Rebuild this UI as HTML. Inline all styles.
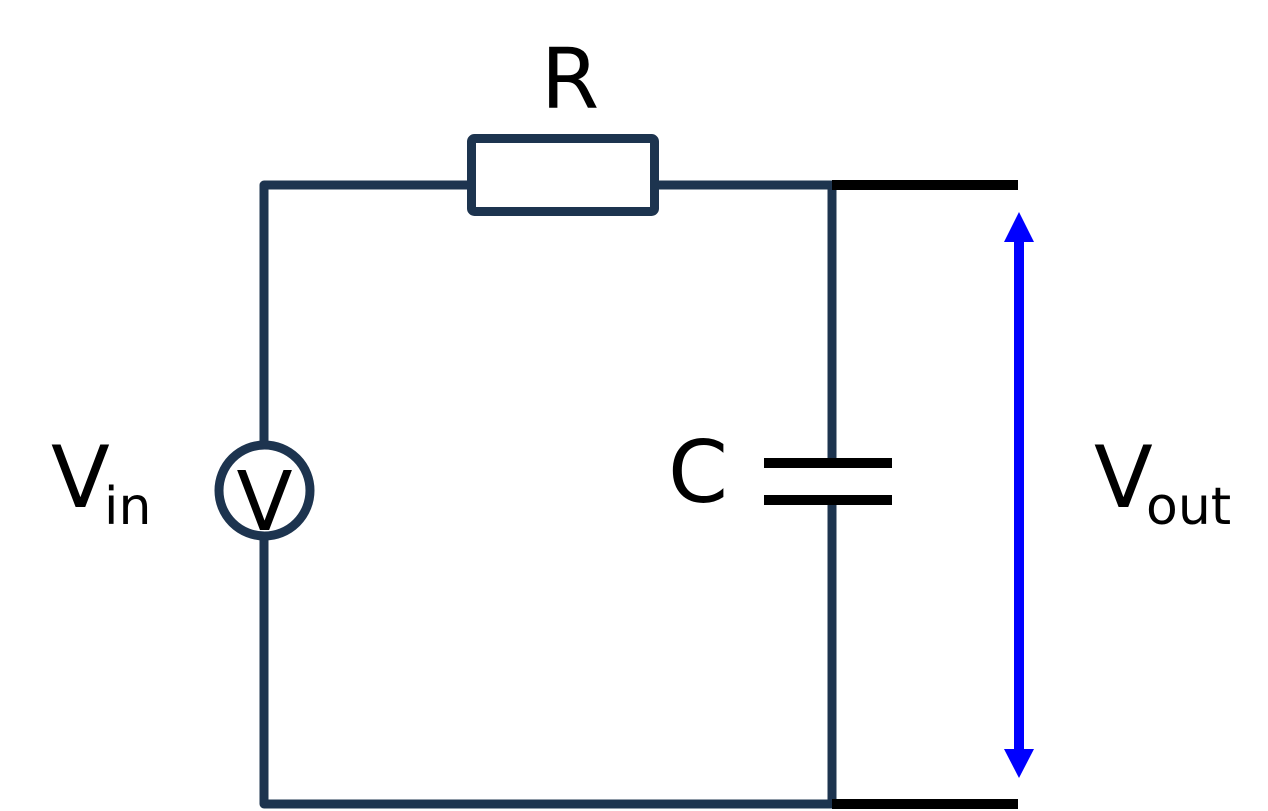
<!DOCTYPE html>
<html><head><meta charset="utf-8"><style>
html,body{margin:0;padding:0;background:#fff;}
svg{display:block;}
text{font-family:"DejaVu Sans","Liberation Sans",sans-serif;fill:#000;}
</style></head><body>
<svg width="1268" height="811" viewBox="0 0 1268 811" xmlns="http://www.w3.org/2000/svg">
<g stroke="#1d344f" stroke-width="9" fill="none" stroke-linejoin="round">
<polyline points="264,445 264,185 471,185"/>
<polyline points="655,185 832,185 832,460"/>
<polyline points="832,503 832,804 264,804 264,536"/>
<rect x="471.5" y="138.5" width="183" height="73" rx="3"/>
<circle cx="264.5" cy="490.5" r="45.5" fill="#fff"/>
</g>
<g stroke="#000" stroke-width="10">
<line x1="832" y1="185" x2="1018" y2="185"/>
<line x1="832" y1="804" x2="1018" y2="804"/>
</g>
<g stroke="#000" stroke-width="10">
<line x1="764" y1="463" x2="892" y2="463"/>
<line x1="764" y1="500" x2="892" y2="500"/>
</g>
<line x1="1019" y1="240" x2="1019" y2="750" stroke="#0000ff" stroke-width="10"/>
<polygon points="1019,212 1004,242 1034,242" fill="#0000ff"/>
<polygon points="1019,778 1004,749 1034,749" fill="#0000ff"/>
<text x="570" y="108" font-size="84" text-anchor="middle">R</text>
<text x="698" y="502" font-size="86" text-anchor="middle">C</text>
<text x="264.5" y="530" font-size="82" text-anchor="middle">V</text>
<text x="51" y="507" font-size="86">V</text>
<text x="104" y="524" font-size="52">in</text>
<text x="1094" y="507" font-size="86">V</text>
<text x="1146" y="524" font-size="52">out</text>
</svg>
</body></html>
